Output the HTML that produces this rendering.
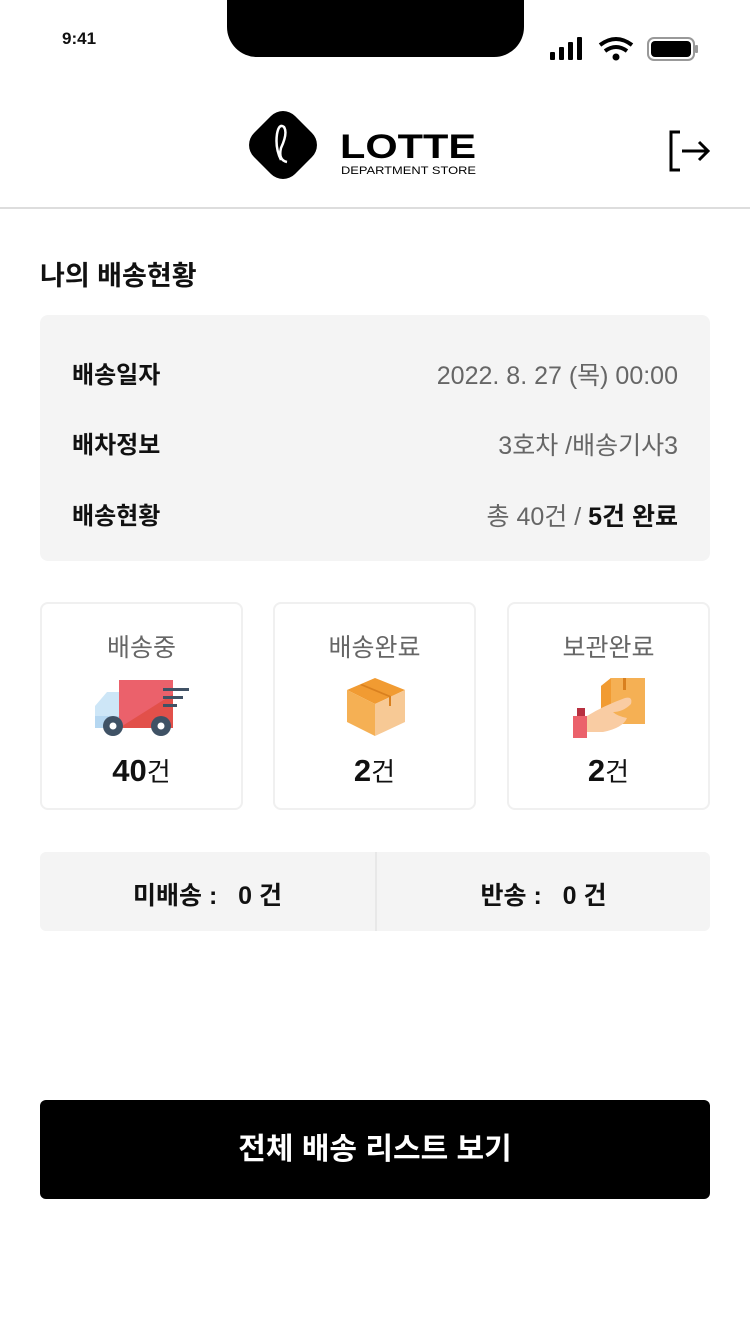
<!DOCTYPE html>
<html><head><meta charset="utf-8">
<style>
*{margin:0;padding:0;box-sizing:border-box}
body{width:750px;height:1334px;background:#fff;position:relative;overflow:hidden;font-family:"Liberation Sans","Noto Sans CJK KR",sans-serif;color:#111}
.abs{position:absolute}
.lbl{position:absolute;left:32px;font-size:24px;font-weight:bold;color:#111}
.val{position:absolute;right:32px;font-size:25px;color:#666}
.card{position:absolute;top:602px;width:203px;height:208px;border:2px solid #f0f0f0;border-radius:8px;text-align:center}
.card .t{position:absolute;top:24px;left:0;right:0;font-size:25px;color:#666}
.card .n{position:absolute;top:148px;left:0;right:0;font-size:31px;font-weight:bold;color:#111}
.card .n span{font-weight:normal;font-size:26px}
.card svg{position:absolute}
</style></head><body>
<div class="abs" style="left:62px;top:29px;font-size:17px;font-weight:bold">9:41</div>
<div class="abs" style="left:227px;top:0;width:297px;height:57px;background:#000;border-radius:0 0 30px 30px"></div>
<svg class="abs" style="left:548px;top:36px" width="152" height="26">
<rect x="2" y="16" width="5" height="8" rx="1"/><rect x="11" y="11" width="5" height="13" rx="1"/><rect x="20" y="6" width="5" height="18" rx="1"/><rect x="29" y="1" width="5" height="23" rx="1"/>
<path d="M52 9 Q68 -3 84 9" stroke="#000" stroke-width="4" fill="none"/><path d="M57 15 Q68 7 79 15" stroke="#000" stroke-width="4" fill="none"/><circle cx="68" cy="21" r="3.5"/>
<rect x="100" y="2" width="46" height="22" rx="6" fill="none" stroke="#999" stroke-width="2"/><rect x="103" y="5" width="40" height="16" rx="4"/><rect x="147" y="9" width="3" height="8" rx="1" fill="#999"/>
</svg>
<svg class="abs" style="left:246px;top:108px" width="236" height="76">
<g transform="rotate(45 37 37)"><rect x="8" y="8" width="58" height="58" rx="17" fill="#000"/></g>
<path d="M35 52 Q29 40 31 26 Q33 15 38 19 Q42 25 35 40 Q32 52 41 54" stroke="#fff" stroke-width="2.5" fill="none"/>
<text x="94" y="50" font-size="34" font-weight="bold" font-family="Liberation Sans" textLength="136" lengthAdjust="spacingAndGlyphs">LOTTE</text>
<text x="95" y="66" font-size="11" font-family="Liberation Sans" textLength="135" lengthAdjust="spacingAndGlyphs">DEPARTMENT STORE</text>
</svg>
<svg class="abs" style="left:668px;top:130px" width="44" height="42">
<path d="M12 2 H3 V40 H12" stroke="#000" stroke-width="3" fill="none"/><path d="M14 21 H40 M31 12 L40 21 L31 30" stroke="#000" stroke-width="3" fill="none"/>
</svg>
<div class="abs" style="left:0;top:207px;width:750px;height:2px;background:#ddd"></div>
<div class="abs" style="left:40px;top:254px;font-size:27px;font-weight:bold">나의 배송현황</div>
<div class="abs" style="left:40px;top:315px;width:670px;height:246px;background:#f4f4f4;border-radius:8px">
<div class="lbl" style="top:40px">배송일자</div>
<div class="val" style="top:41px">2022. 8. 27 (목) 00:00</div>
<div class="lbl" style="top:110px">배차정보</div>
<div class="val" style="top:111px">3호차 /배송기사3</div>
<div class="lbl" style="top:181px">배송현황</div>
<div class="val" style="top:182px">총 40건 / <b style="color:#111">5건 완료</b></div>
</div>
<div class="card" style="left:40px"><div class="t">배송중</div>
<svg style="left:51px;top:74px" width="100" height="60">
<polygon points="14,14 26,14 26,50 2,50 2,28" fill="#cde6f7"/><rect x="2" y="38" width="24" height="12" fill="#b5d7f1"/>
<rect x="26" y="2" width="54" height="48" fill="#eb616b"/><polygon points="26,50 80,16 80,50" fill="#e2504a"/>
<rect x="70" y="10" width="26" height="3" fill="#3f5265"/><rect x="70" y="18" width="20" height="3" fill="#3f5265"/><rect x="70" y="26" width="14" height="3" fill="#3f5265"/>
<circle cx="20" cy="48" r="10" fill="#3f5265"/><circle cx="20" cy="48" r="3.5" fill="#fff"/><circle cx="68" cy="48" r="10" fill="#3f5265"/><circle cx="68" cy="48" r="3.5" fill="#fff"/>
</svg>
<div class="n">40<span>건</span></div></div>
<div class="card" style="left:273px"><div class="t">배송완료</div>
<svg style="left:70px;top:72px" width="62" height="62">
<polygon points="2,14 30,2 60,14 30,28" fill="#f19b32"/><polygon points="2,14 30,28 30,60 2,46" fill="#f5b054"/><polygon points="30,28 60,14 60,46 30,60" fill="#f7c995"/>
<polygon points="17,8 46,20 46,30 44,30 44,21 15,9" fill="#d9801f"/>
</svg>
<div class="n">2<span>건</span></div></div>
<div class="card" style="left:507px"><div class="t">보관완료</div>
<svg style="left:64px;top:72px" width="76" height="62">
<polygon points="28,10 38,2 72,2 72,48 28,48" fill="#f5b054"/><polygon points="28,10 38,2 38,48 28,48" fill="#f19b32"/><rect x="50" y="2" width="3" height="12" fill="#d9801f"/>
<path d="M14 40 Q30 30 52 22 Q60 20 58 28 Q50 36 40 36 Q44 40 54 42 Q50 52 30 56 L14 56 Z" fill="#f9cca3"/>
<rect x="4" y="32" width="8" height="8" fill="#b83040"/><rect x="0" y="40" width="14" height="22" fill="#eb616b"/>
</svg>
<div class="n">2<span>건</span></div></div>
<div class="abs" style="left:40px;top:852px;width:670px;height:79px;background:#f4f4f4;border-radius:6px">
<div class="abs" style="left:335px;top:0;width:2px;height:79px;background:#e8e8e8"></div>
<div class="abs" style="left:0;width:335px;top:24px;text-align:center;font-size:25px;font-weight:bold">미배송 :&nbsp;&nbsp; 0 건</div>
<div class="abs" style="left:337px;width:333px;top:24px;text-align:center;font-size:25px;font-weight:bold">반송 :&nbsp;&nbsp; 0 건</div>
</div>
<div class="abs" style="left:40px;top:1100px;width:670px;height:99px;background:#000;border-radius:6px;color:#fff;font-size:30px;font-weight:bold;text-align:center;line-height:99px">전체 배송 리스트 보기</div>
</body></html>
